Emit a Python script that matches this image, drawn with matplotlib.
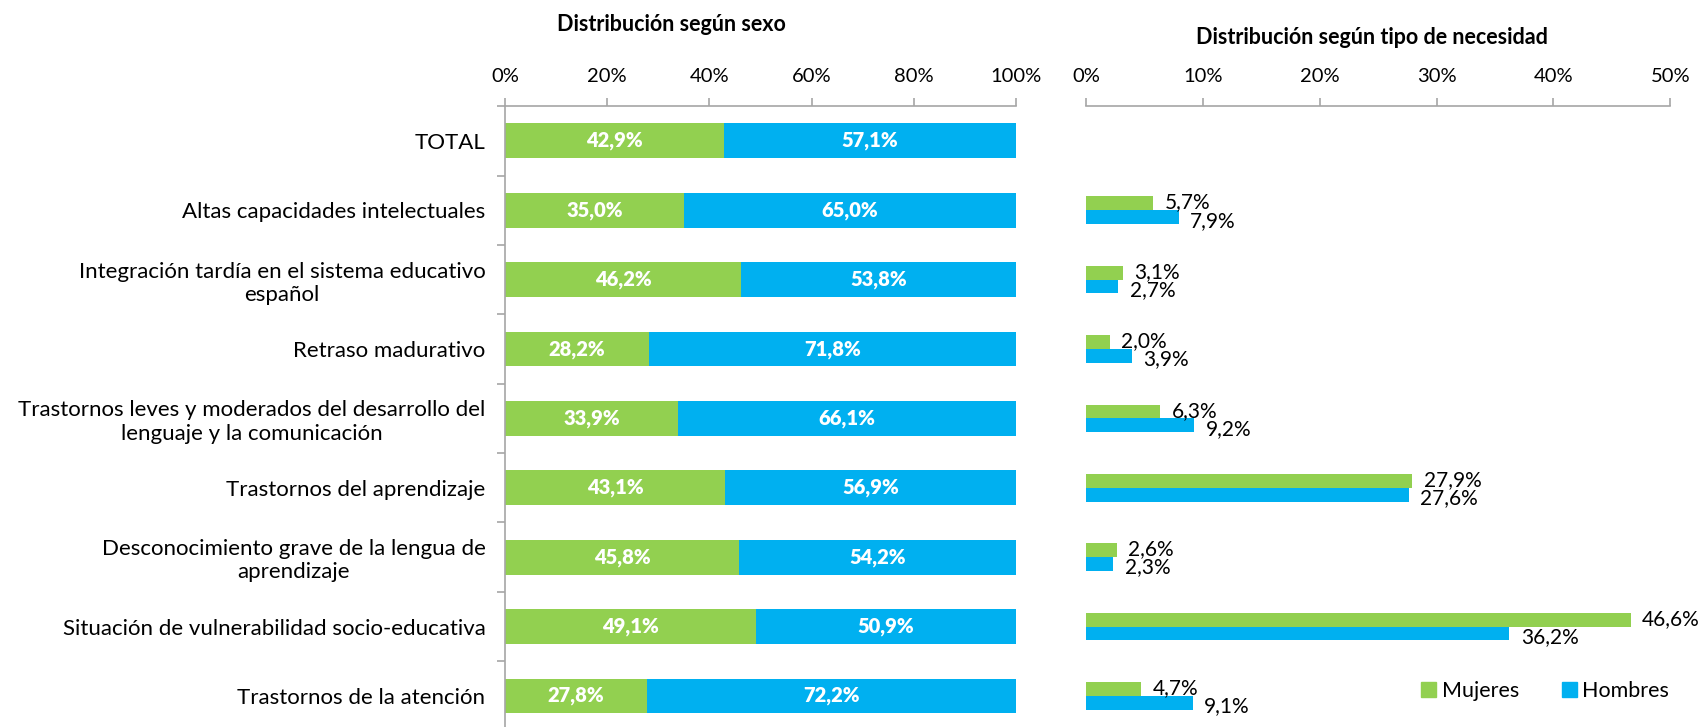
import numpy as np
import matplotlib
matplotlib.use("Agg")
import matplotlib.pyplot as plt
from matplotlib.patches import Patch

plt.rcParams["font.family"] = ["Lato", "DejaVu Sans"]

categories = [
    "TOTAL",
    "Altas capacidades intelectuales",
    "Integración tardía en el sistema educativo\nespañol",
    "Retraso madurativo",
    "Trastornos leves y moderados del desarrollo del\nlenguaje y la comunicación",
    "Trastornos del aprendizaje",
    "Desconocimiento grave de la lengua de\naprendizaje",
    "Situación de vulnerabilidad socio-educativa",
    "Trastornos de la atención",
]
sexo_mujeres = [42.9, 35.0, 46.2, 28.2, 33.9, 43.1, 45.8, 49.1, 27.8]
sexo_hombres = [57.1, 65.0, 53.8, 71.8, 66.1, 56.9, 54.2, 50.9, 72.2]
# tipo de necesidad (no value for TOTAL)
tipo_mujeres = [np.nan, 5.7, 3.1, 2.0, 6.3, 27.9, 2.6, 46.6, 4.7]
tipo_hombres = [np.nan, 7.9, 2.7, 3.9, 9.2, 27.6, 2.3, 36.2, 9.1]

GREEN = "#92D050"
BLUE = "#00B0F0"
AXIS = "#A6A6A6"

def fmt(v):
    return f"{v:.1f}%".replace(".", ",")

fig = plt.figure(figsize=(17, 7.27), dpi=100)
ax1 = fig.add_axes([0.297, -0.005, 0.3006, 0.859])
ax2 = fig.add_axes([0.639, -0.005, 0.3435, 0.859])

y = np.arange(len(categories))

# left: stacked 100% bars
ax1.barh(y, sexo_mujeres, height=0.5, color=GREEN)
ax1.barh(y, sexo_hombres, left=sexo_mujeres, height=0.5, color=BLUE)
for i in range(len(categories)):
    ax1.text(sexo_mujeres[i] / 2, i, fmt(sexo_mujeres[i]), ha="center", va="center",
             color="white", fontweight="heavy", fontsize=14.5)
    ax1.text(sexo_mujeres[i] + sexo_hombres[i] / 2, i, fmt(sexo_hombres[i]), ha="center",
             va="center", color="white", fontweight="heavy", fontsize=14.5)

ax1.set_xlim(0, 100)
ax1.set_ylim(len(categories) - 0.5, -0.5)
ax1.set_xticks(np.arange(0, 101, 20))
ax1.set_xticklabels([f"{t}%" for t in range(0, 101, 20)])
ax1.set_yticks(y)
ax1.set_yticklabels(categories)
for lab in ax1.get_yticklabels():
    lab.set_multialignment("center")
ax1.set_yticks(np.arange(-0.5, len(categories)), minor=True)
ax1.tick_params(axis="y", which="major", length=0, pad=14, labelsize=16)
ax1.tick_params(axis="y", which="minor", length=6, color=AXIS, width=1.2)
ax1.set_title("Distribución según sexo", fontweight="bold", fontsize=15.5,
              x=0.325, y=1.0, pad=54)

# right: grouped bars
bh = 0.2
ax2.barh(y - bh / 2, tipo_mujeres, height=bh, color=GREEN, label="Mujeres")
ax2.barh(y + bh / 2, tipo_hombres, height=bh, color=BLUE, label="Hombres")
for i in range(len(categories)):
    if not np.isnan(tipo_mujeres[i]):
        ax2.text(tipo_mujeres[i] + 1.0, i - bh / 2 - 0.01, fmt(tipo_mujeres[i]), va="center",
                 ha="left", fontsize=15)
        ax2.text(tipo_hombres[i] + 1.0, i + bh / 2 + 0.05, fmt(tipo_hombres[i]), va="center",
                 ha="left", fontsize=15)
ax2.set_xlim(0, 50)
ax2.set_ylim(len(categories) - 0.5, -0.5)
ax2.set_xticks(np.arange(0, 51, 10))
ax2.set_xticklabels([f"{t}%" for t in range(0, 51, 10)])
ax2.set_yticks([])
ax2.spines["left"].set_visible(False)
ax2.set_title("Distribución según tipo de necesidad", fontweight="bold", fontsize=15.5,
              x=0.49, pad=45)

for ax in (ax1, ax2):
    ax.xaxis.tick_top()
    ax.tick_params(axis="x", length=6, color=AXIS, width=1.2, labelsize=14.5, pad=9)
    ax.spines["right"].set_visible(False)
    ax.spines["bottom"].set_visible(False)
    ax.spines["top"].set_color(AXIS)
    ax.spines["left"].set_color(AXIS)
    ax.spines["top"].set_linewidth(1.2)
    ax.spines["left"].set_linewidth(1.2)

handles = [Patch(color=GREEN, label="Mujeres"), Patch(color=BLUE, label="Hombres")]
fig.legend(handles=handles, loc="center", bbox_to_anchor=(0.909, 0.05), ncol=2,
           frameon=False, fontsize=15.5, handlelength=0.7, handleheight=0.7,
           handletextpad=0.25, columnspacing=2.0)

fig.savefig("out.png", dpi=100)
